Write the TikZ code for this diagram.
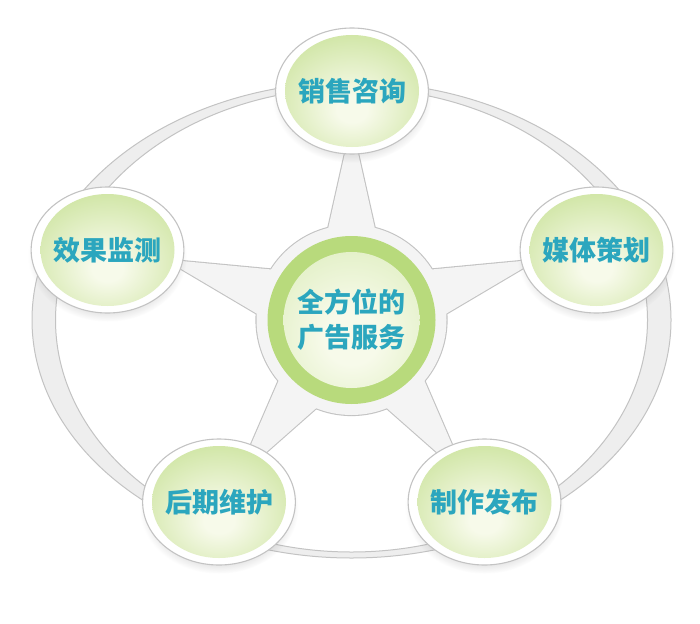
\documentclass[tikz,border=0pt]{standalone}
\usepackage{fontspec}
\usepackage{tikz}
\usetikzlibrary{shapes.geometric,shadows,fadings}
\newfontfamily\cjk{Noto Sans CJK SC}

\definecolor{rimgray}{HTML}{C3C3C3}
\definecolor{ringgray}{HTML}{EEEEEE}
\definecolor{stargray}{HTML}{F4F4F4}
\definecolor{leafgreen}{HTML}{BCDB82}
\definecolor{leafglow}{HTML}{F7FAEA}
\definecolor{hubgreen}{HTML}{B8DA7C}
\definecolor{hubedge}{HTML}{CCE5A0}
\definecolor{labelteal}{HTML}{2BA6BE}

\pgfdeclareradialshading{leafshade}{\pgfpoint{0bp}{-8bp}}{color(0bp)=(leafglow); color(5bp)=(leafglow); color(40bp)=(leafgreen); color(70bp)=(leafgreen)}
\pgfdeclareradialshading{hubshade}{\pgfpoint{0bp}{-6bp}}{color(0bp)=(leafglow); color(8bp)=(leafglow); color(46bp)=(hubedge); color(70bp)=(hubedge)}

\tikzset{
  label font/.style={text=labelteal, font=\cjk\bfseries\fontsize{27}{35}\selectfont, align=center},
  service/.style={ellipse, draw=rimgray, line width=1.1pt, fill=white, inner sep=0pt,
    minimum width=150, minimum height=126, label font,
    circular drop shadow={shadow xshift=0pt, shadow yshift=-6pt, opacity=0.2, shadow scale=1.04},
    path picture={\shade[shading=leafshade] (path picture bounding box.center) ellipse [x radius=67pt, y radius=56pt];}},
  hub/.style={circle, fill=hubgreen, inner sep=0pt, minimum size=168, label font,
    path picture={\shade[shading=hubshade] (path picture bounding box.center) circle [radius=68pt];}},
  starrim/.style={draw=rimgray, line width=2.2pt},
  starbody/.style={fill=stargray},
}

\newcommand\starpath{(0,0) circle [radius=95] (270:196) \foreach \k in {0,...,4} {-- ({306+72*\k}:57) -- ({342+72*\k}:196)} -- cycle}

\begin{document}
\begin{tikzpicture}[x=1pt, y=-1pt]
  \useasboundingbox (0,0) rectangle (700,623);
  \coordinate (c) at (351.5,320);

  % outer ring
  \path[draw=rimgray, line width=1pt, fill=ringgray, even odd rule]
    (c) ellipse [x radius=319.5, y radius=238] (c) ellipse [x radius=296, y radius=232];

  % star behind the hub
  \begin{scope}[shift={(c)}]
    \path[starrim] \starpath;
    \path[starbody] \starpath;
  \end{scope}

  \node[hub] (hub) at (c) {全方位的\\广告服务};

  \node[service] (sales)   at (352,91)  {销售咨询};
  \node[service] (media)   at (596.5,250) {媒体策划};
  \node[service] (publish) at (484.5,502) {制作发布};
  \node[service] (upkeep)  at (219,502) {后期维护};
  \node[service] (monitor) at (107.5,250) {效果监测};
\end{tikzpicture}
\end{document}
